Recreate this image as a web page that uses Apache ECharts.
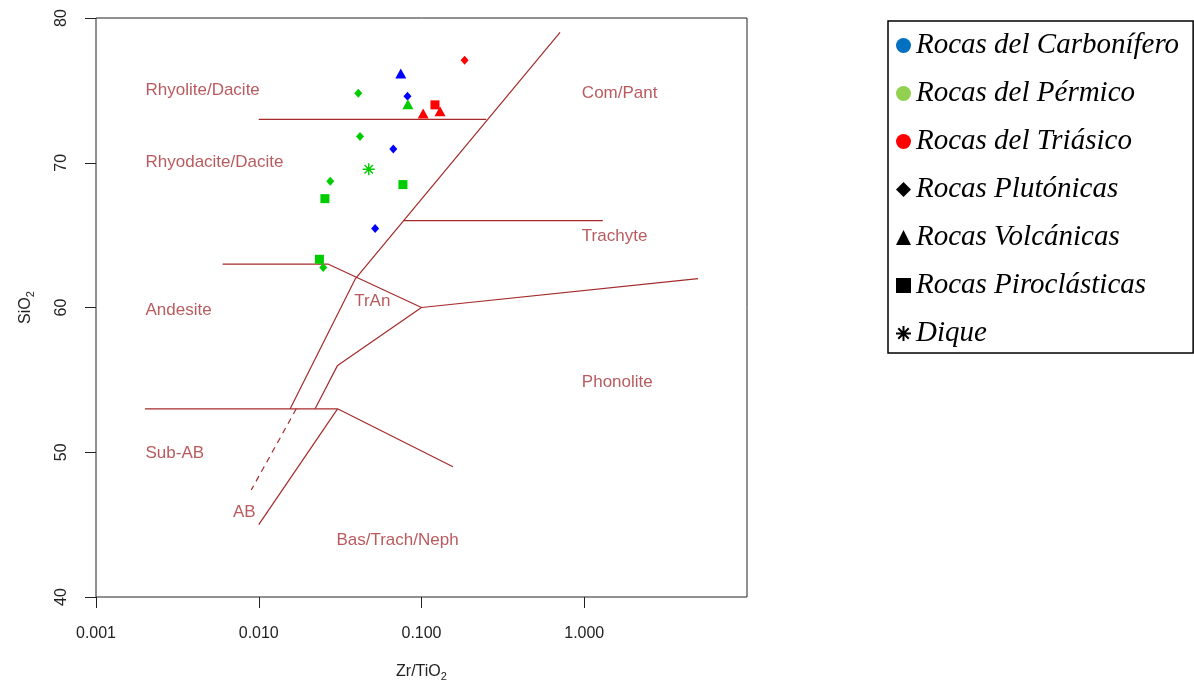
<!DOCTYPE html>
<html>
<head>
<meta charset="utf-8">
<script src="https://cdn.jsdelivr.net/npm/echarts@6/dist/echarts.min.js"></script>
<style>
html, body { margin: 0; padding: 0; background: #fff; }
#chart { width: 1194px; height: 691px; }
</style>
</head>
<body>
<div id="chart"></div>
<script>
// Zr/TiO2 (log) vs SiO2 points, by age and rock type
const carbPlut = [[0.082, 74.6], [0.0671, 70.95], [0.0519, 65.45]];
const carbVolc = [[0.0746, 76.16]];
const permPlut = [[0.0409, 74.8], [0.0419, 71.81], [0.0275, 68.72], [0.0249, 62.76]];
const permVolc = [[0.0825, 74.04]];
const permPiro = [[0.0769, 68.49], [0.0255, 67.52], [0.0236, 63.33]];
const permDique = [[0.0474, 69.55]];
const triaPlut = [[0.184, 77.08]];
const triaVolc = [[0.1024, 73.4], [0.13, 73.55]];
const triaPiro = [[0.121, 74.0]];

// field boundaries (Winchester & Floyd)
const boundaries = [
	[[0.01, 73], [0.25, 73]],
	[[0.71, 79], [0.0393, 62], [0.0156, 53]],
	[[0.0775, 66], [1.3, 66]],
	[[0.006, 63], [0.0266, 63], [0.1, 60], [5, 62]],
	[[0.1, 60], [0.0305, 56], [0.0222, 53]],
	[[0.002, 53], [0.0305, 53]],
	[[0.0305, 53], [0.156, 49]],
	[[0.0305, 53], [0.01, 45]]
];
const dashedBoundary = [[0.017, 53], [0.009, 47.4]];

const fieldNames = ["Rhyolite/Dacite", "Com/Pant", "Rhyodacite/Dacite", "Trachyte", "TrAn",
	"Andesite", "Phonolite", "Sub-AB", "AB", "Bas/Trach/Neph"];
const fieldPos = [[0.002, 75], [0.96, 74.8], [0.002, 70], [0.96, 64.9], [0.0383, 60.4],
	[0.002, 59.8], [0.96, 54.8], [0.002, 49.9], [0.0069, 45.85], [0.0298, 43.9]];

const xTickValues = [0.001, 0.01, 0.1, 1];
const xTickLabels = ["0.001", "0.010", "0.100", "1.000"];

const legendNames = ["Rocas del Carbonífero", "Rocas del Pérmico", "Rocas del Triásico",
	"Rocas Plutónicas", "Rocas Volcánicas", "Rocas Piroclásticas", "Dique"];

const BLUE = "#0000FF", GREEN = "#00CD00", RED = "#FF0000", LINE = "#A52A2A";
const ASTERISK = "path://M6 0L6 12M0 6L12 6M1.8 1.8L10.2 10.2M1.8 10.2L10.2 1.8";

function pts(name, data, color, symbol, size) {
	return {
		name: name,
		type: "scatter",
		data: data,
		symbol: symbol,
		symbolSize: size,
		itemStyle: symbol === ASTERISK
			? { color: color, borderColor: color, borderWidth: 1.4, opacity: 1 }
			: { color: color, opacity: 1 },
		z: 5
	};
}

function legendOnly(name, color, symbol) {
	return {
		name: name,
		type: "scatter",
		data: [],
		symbol: symbol,
		itemStyle: symbol === ASTERISK
			? { color: color, borderColor: color, borderWidth: 2.2, opacity: 1 }
			: { color: color, opacity: 1 }
	};
}

const series = [];
boundaries.forEach(function (b, i) {
	series.push({
		name: "b" + i,
		type: "line",
		data: b,
		showSymbol: false,
		lineStyle: { color: LINE, width: 1.2 },
		z: 2
	});
});
series.push({
	name: "bd",
	type: "line",
	data: dashedBoundary,
	showSymbol: false,
	lineStyle: { color: LINE, width: 1.2, type: [6, 5] },
	z: 2
});
series.push({
	name: "fields",
	type: "scatter",
	data: fieldPos.map(function (p, i) { return { name: fieldNames[i], value: p }; }),
	symbolSize: 1,
	itemStyle: { color: "transparent" },
	label: {
		show: true,
		position: "right",
		distance: 0,
		formatter: "{b}",
		color: "#A83236",
		fontFamily: "Liberation Sans",
		fontSize: 17
	},
	z: 3
});

series.push(pts("cp", carbPlut, BLUE, "diamond", [8, 9]));
series.push(pts("cv", carbVolc, BLUE, "triangle", [11, 10]));
series.push(pts("pp", permPlut, GREEN, "diamond", [8, 9]));
series.push(pts("pv", permVolc, GREEN, "triangle", [11, 10]));
series.push(pts("pr", permPiro, GREEN, "rect", 9));
series.push(pts("pd", permDique, GREEN, ASTERISK, 12));
series.push(pts("tp", triaPlut, RED, "diamond", [8, 9]));
series.push(pts("tv", triaVolc, RED, "triangle", [11, 10]));
series.push(pts("tr", triaPiro, RED, "rect", 9));

series.push(legendOnly(legendNames[0], "#0070C0", "circle"));
series.push(legendOnly(legendNames[1], "#92D050", "circle"));
series.push(legendOnly(legendNames[2], "#FF0000", "circle"));
series.push(legendOnly(legendNames[3], "#000", "diamond"));
series.push(legendOnly(legendNames[4], "#000", "triangle"));
series.push(legendOnly(legendNames[5], "#000", "rect"));
series.push(legendOnly(legendNames[6], "#000", ASTERISK));

const chart = echarts.init(document.getElementById("chart"));
chart.setOption({
	animation: false,
	backgroundColor: "#fff",
	grid: {
		left: 96,
		top: 18,
		width: 651,
		height: 579,
		show: true,
		borderColor: "#222",
		borderWidth: 1,
		backgroundColor: "transparent"
	},
	legend: {
		data: legendNames,
		orient: "vertical",
		left: 888,
		top: 21,
		itemWidth: 15,
		itemHeight: 15,
		itemGap: 19,
		padding: [10, 14, 5, 7],
		borderColor: "#000",
		borderWidth: 1.5,
		selectedMode: false,
		textStyle: {
			fontFamily: "Liberation Serif",
			fontStyle: "italic",
			fontSize: 29,
			color: "#000"
		}
	},
	xAxis: {
		type: "log",
		logBase: 10,
		min: 0.001,
		max: 10,
		name: "Zr/TiO{s|2}",
		nameLocation: "middle",
		nameGap: 64,
		nameTextStyle: {
			fontFamily: "Liberation Sans",
			fontSize: 16,
			color: "#222",
			rich: { s: { fontSize: 11, padding: [10, 0, 0, 0], fontFamily: "Liberation Sans", color: "#222" } }
		},
		axisLine: { show: false },
		axisTick: { show: true, length: 11, lineStyle: { color: "#222" }, customValues: xTickValues },
		axisLabel: {
			margin: 29,
			fontFamily: "Liberation Sans",
			fontSize: 16,
			color: "#222",
			customValues: xTickValues,
			formatter: function (v) {
				const i = xTickValues.findIndex(function (t) { return Math.abs(t - v) / t < 1e-6; });
				return i >= 0 ? xTickLabels[i] : "";
			}
		},
		splitLine: { show: false }
	},
	yAxis: {
		type: "value",
		min: 40,
		max: 80,
		interval: 10,
		name: "SiO{s|2}",
		nameLocation: "middle",
		nameRotate: 90,
		nameGap: 60,
		nameTextStyle: {
			fontFamily: "Liberation Sans",
			fontSize: 16,
			color: "#222",
			rich: { s: { fontSize: 11, padding: [10, 0, 0, 0], fontFamily: "Liberation Sans", color: "#222" } }
		},
		axisLine: { show: false },
		axisTick: { show: true, length: 11, lineStyle: { color: "#222" } },
		axisLabel: {
			rotate: 90,
			margin: 26,
			fontFamily: "Liberation Sans",
			fontSize: 16,
			color: "#222"
		},
		splitLine: { show: false }
	},
	series: series
});
</script>
</body>
</html>
